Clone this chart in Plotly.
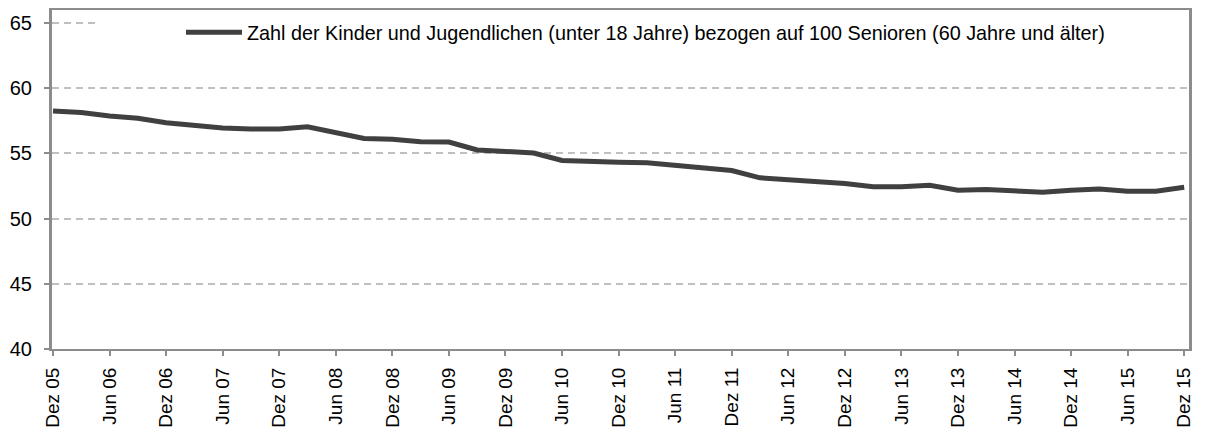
import plotly.graph_objects as go

quarters = [
    "Dez 05", "Mär 06", "Jun 06", "Sep 06", "Dez 06", "Mär 07", "Jun 07", "Sep 07",
    "Dez 07", "Mär 08", "Jun 08", "Sep 08", "Dez 08", "Mär 09", "Jun 09", "Sep 09",
    "Dez 09", "Mär 10", "Jun 10", "Sep 10", "Dez 10", "Mär 11", "Jun 11", "Sep 11",
    "Dez 11", "Mär 12", "Jun 12", "Sep 12", "Dez 12", "Mär 13", "Jun 13", "Sep 13",
    "Dez 13", "Mär 14", "Jun 14", "Sep 14", "Dez 14", "Mär 15", "Jun 15", "Sep 15",
    "Dez 15",
]
values = [
    58.26, 58.13, 57.87, 57.69, 57.36, 57.15, 56.95, 56.87,
    56.88, 57.05, 56.62, 56.15, 56.08, 55.90, 55.87, 55.26,
    55.15, 55.03, 54.46, 54.36, 54.33, 54.28, 54.08, 53.90,
    53.69, 53.13, 53.00, 52.82, 52.69, 52.44, 52.44, 52.56,
    52.18, 52.23, 52.10, 52.03, 52.18, 52.28, 52.10, 52.10,
    52.41,
]
series_name = "Zahl der Kinder und Jugendlichen (unter 18 Jahre) bezogen auf 100 Senioren (60 Jahre und älter)"
y_ticks = [40, 45, 50, 55, 60, 65]

x_idx = list(range(len(quarters)))
tick_idx = x_idx[::2]
tick_text = [quarters[i] for i in tick_idx]

fig = go.Figure()
fig.add_trace(go.Scatter(
    x=x_idx, y=values, mode="lines", name=series_name,
    line=dict(color="#404040", width=5),
    showlegend=True,
))

axis_gray = "#8c8c8c"
plot_w = 1137.0
plot_h = 339.0
fig.update_layout(
    width=1201, height=424,
    margin=dict(l=44, r=20, t=2, b=83, autoexpand=False),
    paper_bgcolor="white", plot_bgcolor="white",
    font=dict(family="Liberation Sans, Arial, sans-serif", size=20, color="black"),
    showlegend=True,
    legend=dict(
        orientation="h", x=(181 - 52) / plot_w, xanchor="left",
        y=1 - 3 / plot_h, yanchor="top",
        bgcolor="rgba(0,0,0,0)", font=dict(size=19.8), itemwidth=56,
    ),
    xaxis=dict(
        range=[-0.035, 40.17], tickmode="array", tickvals=tick_idx, ticktext=tick_text,
        tickangle=-90, showgrid=False, zeroline=False,
        showline=True, linecolor=axis_gray, linewidth=2, mirror=True,
        ticks="outside", ticklen=5, tickcolor=axis_gray, tickwidth=2,
        tickfont=dict(size=19), ticklabelstandoff=4,
    ),
    yaxis=dict(
        range=[40, 66], tickmode="array", tickvals=y_ticks,
        showgrid=True, gridcolor="#c0c0c0", gridwidth=2, griddash="7px,5px",
        zeroline=False,
        showline=True, linecolor=axis_gray, linewidth=3, mirror=True,
        ticks="outside", ticklen=5, tickcolor=axis_gray, tickwidth=2,
        tickfont=dict(size=20), ticklabelstandoff=8,
    ),
)
fig.add_shape(
    type="rect", xref="x", yref="y", x0=1.5, x1=40.17, y0=64.6, y1=65.4,
    fillcolor="white", line=dict(width=0), layer="between",
)
fig.write_html("out.html")
